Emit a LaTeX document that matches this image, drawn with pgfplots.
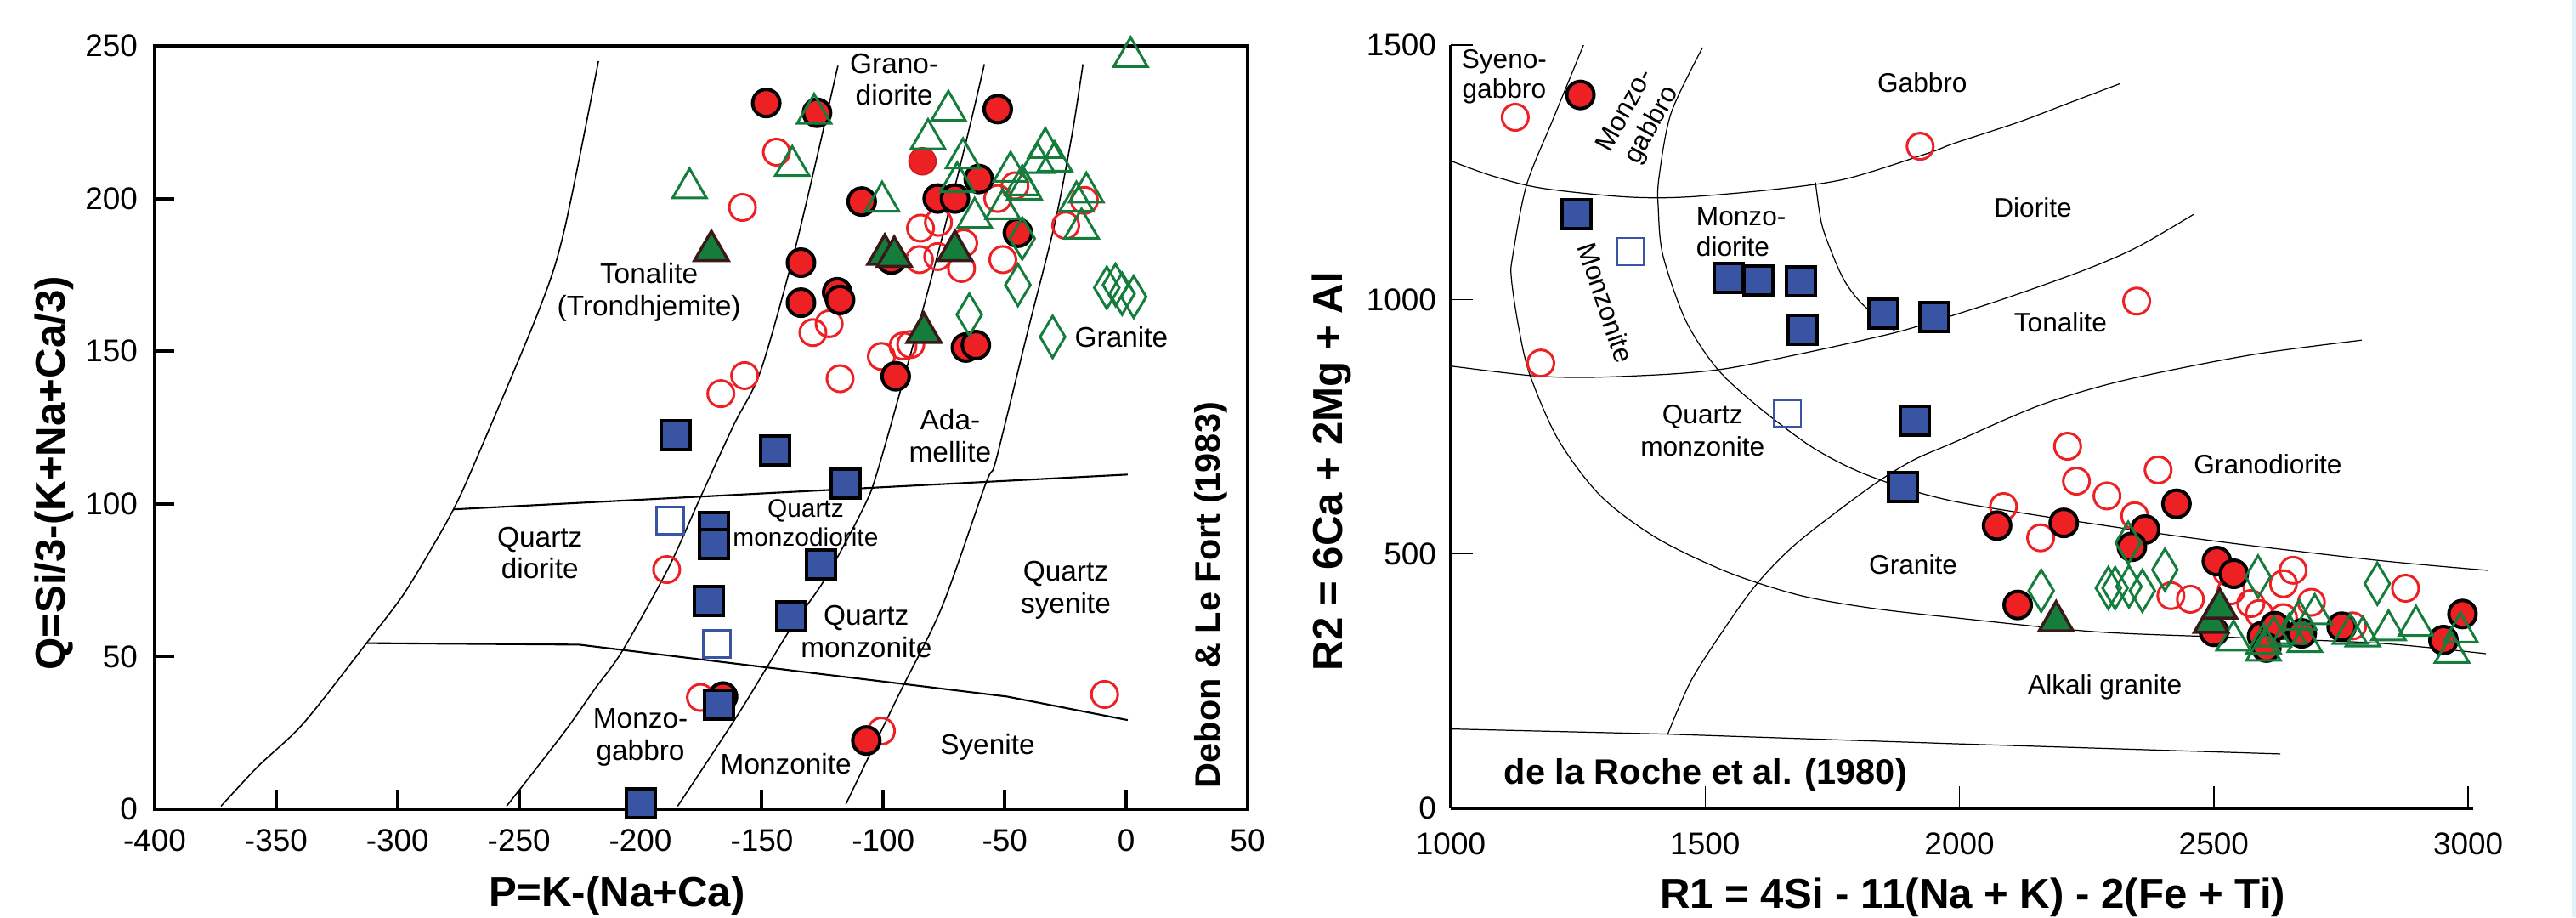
\documentclass[border=0pt]{standalone}
\usepackage{fontspec}
\setmainfont{Liberation Sans}
\usepackage{pgfplots}
\pgfplotsset{compat=1.18}
\definecolor{myred}{RGB}{237,32,36}
\definecolor{mygreen}{RGB}{20,125,60}
\definecolor{myblue}{RGB}{58,84,164}
\definecolor{mybrown}{RGB}{60,25,25}
\definecolor{strip}{RGB}{225,243,250}
\newcommand\labL{\fontsize{9.5}{10.7}\selectfont}
\newcommand\labR{\fontsize{9}{10.1}\selectfont}
\newcommand\axl{\fontsize{14}{16}\selectfont\bfseries}
\pgfplotsset{
 redo/.style={only marks, color=myred, mark=o, mark size=1.55mm, mark options={draw=myred, line width=0.3mm}},
 redf/.style={only marks, color=myred, mark=*, mark size=1.6mm, mark options={fill=myred, draw=black, line width=0.4mm}},
 redn/.style={only marks, color=myred, mark=*, mark size=1.6mm, mark options={fill=myred, draw=myred!85!black, line width=0.15mm}},
 greto/.style={only marks, color=mygreen, mark=triangle, mark size=2.3mm, mark options={draw=mygreen, line width=0.3mm}},
 gretf/.style={only marks, color=mygreen, mark=triangle*, mark size=2.3mm, mark options={fill=mygreen, draw=mybrown, line width=0.35mm}},
 gred/.style={only marks, color=mygreen, mark=diamond, mark size=2.45mm, mark options={draw=mygreen, line width=0.3mm, xscale=0.8}},
 bluf/.style={only marks, color=myblue, mark=square*, mark size=1.7mm, mark options={fill=myblue, draw=black, line width=0.4mm}},
 bluo/.style={only marks, color=myblue, mark=square, mark size=1.6mm, mark options={draw=myblue, line width=0.25mm}},
 fld/.style={black, line width=0.45pt, smooth, no marks},
 fldR/.style={black, line width=0.35pt, smooth, no marks},
}
\begin{document}
\begin{tikzpicture}
\useasboundingbox (0,0) rectangle (303.1mm,107.9mm);
\fill[strip] (302.6mm,0) rectangle (303.1mm,107.9mm);
% ---------------- LEFT: Debon & Le Fort ----------------
\begin{axis}[
  at={(18.2mm,12.7mm)}, anchor=south west,
  scale only axis, width=128.6mm, height=89.8mm,
  xmin=-400, xmax=50, ymin=0, ymax=250,
  clip=false,
  xtick={-400,-350,...,50}, ytick={0,50,...,250},
  xtick pos=bottom, ytick pos=left, tick align=inside,
  major tick length=2.3mm,
  every tick/.style={black, line width=0.4mm},
  axis line style={line width=0.35mm},
  tick label style={font=\fontsize{10.5}{12}\selectfont},
  xticklabel style={yshift=-1.17mm},
  yticklabel style={xshift=-0.77mm},
  /pgf/number format/assume math mode=true,
  /pgf/number format/1000 sep={},
]
\addplot[fld] coordinates {(-372.7,1) (-357.5,14) (-338.7,28.2) (-312.8,54.4) (-297.6,70.3) (-285,86.8) (-277,98.2) (-269,112) (-242.3,162.4) (-231.6,188.8) (-217.3,245)};
\addplot[fld] coordinates {(-255.1,1) (-231.6,25) (-218.7,39.5) (-207.5,51.8) (-188.5,79) (-175.9,101.1) (-161.6,125.8) (-150.8,142.9) (-138.4,177.1) (-129.4,206.4) (-118.7,243.5)};
\addplot[fld] coordinates {(-184.7,1) (-159.7,31.2) (-138.3,59) (-124,75.4) (-108,99) (-101.9,112) (-86.5,155.6) (-75.9,186.9) (-65.2,221) (-58.4,244)};
\addplot[fld] coordinates {(-115.4,1.7) (-93.7,37.4) (-75.9,66.2) (-58,106.3) (-54.5,111.9) (-50,125.8) (-40.2,157.6) (-29.4,191.8) (-22.3,221) (-17.8,244)};
\addplot[black, line width=0.6pt, no marks] coordinates {(-277,98.2) (0.6,109.6)};
\addplot[black, line width=0.6pt, no marks] coordinates {(-312.8,54.4) (-225.3,53.9) (-49,36.9) (0.6,29.2)};
% open red circles
\addplot[redo] coordinates {(-144,215.2) (-158,197.1) (-84.7,190.3) (-77.3,192.2) (-66.9,185.4) (-85.1,180) (-77.6,181) (-67.8,177.1) (-50.8,180) (-52.9,200) (-45.8,204.2) (-17.2,199.4) (-24.9,191.2) (-122.3,159) (-129,156.1) (-117.8,141) (-100.8,148.3) (-91.9,151.7) (-88.7,152.2) (-157.1,142) (-166.9,136.1) (-189.2,78.5) (-175.3,36.6) (-100.8,25.6) (-8.9,37.6)};
% filled red circles
\addplot[redf] coordinates {(-148.2,231.3) (-127.3,228.1) (-52.9,229.3) (-60.7,206.4) (-108.9,199) (-77.6,200) (-70.5,200) (-44.6,188.8) (-133.9,179) (-133.9,165.9) (-119,169.3) (-117.8,166.8) (-96.7,180) (-66,151.2) (-61.9,152) (-94.9,141.8) (-166,36.9) (-107,22.5)};
\addplot[redn] coordinates {(-83.9,212.2)};
% green diamonds
\addplot[gred] coordinates {(-42.8,186.9) (-44.6,171.7) (-64.6,162) (-30.3,154.7) (-8,170.8) (-4.4,171.7) (-1.7,168.8) (3.1,167.8)};
% open green triangles
\addplot[greto] coordinates {(-128.5,227.8) (-73.2,228.8) (-81.6,219.5) (-137.5,210.7) (-179.8,203.4) (-67.2,213.2) (-69.6,205.4) (-100.5,199) (-62.4,193.7) (-50.8,196.6) (-47.6,208.8) (-42.8,204.4) (-41.9,203) (-36.5,211.7) (-33.3,216.6) (-29.4,212.2) (-16.4,202) (-20.5,199) (-18.4,190.2) (1.8,246.4)};
% filled green triangles
\addplot[gretf] coordinates {(-170.8,182.9) (-99.4,181.7) (-95.5,181) (-70.5,182.9) (-83.3,156.1)};
% blue squares
\addplot[bluf] coordinates {(-185.6,122.5) (-144.6,117.5) (-115.6,106.5) (-169.6,92.4) (-169.6,86.8) (-125.8,80.3) (-171.7,68.3) (-137.8,63.1) (-167.6,34.3) (-199.8,1.9)};
\addplot[bluo] coordinates {(-187.8,94.5) (-168.5,54.2)};
% labels
\node[font=\labL, align=center] at (axis cs:-95.5,239) {Grano-\\diorite};
\node[font=\labL, align=center] at (axis cs:-196.5,169.3) {Tonalite\\(Trondhjemite)};
\node[font=\labL] at (axis cs:-2,154.5) {Granite};
\node[font=\labL, align=center] at (axis cs:-72.5,122.4) {Ada-\\mellite};
\node[font=\labL, align=center] at (axis cs:-241.4,83.9) {Quartz\\diorite};
\node[font=\fontsize{8.5}{9.6}\selectfont, align=center] at (axis cs:-132,93.8) {Quartz\\monzodiorite};
\node[font=\labL, align=center] at (axis cs:-107,58.2) {Quartz\\monzonite};
\node[font=\labL, align=center] at (axis cs:-24.9,71.8) {Quartz\\syenite};
\node[font=\labL, align=center] at (axis cs:-200,23.5) {Monzo-\\gabbro};
\node[font=\labL] at (axis cs:-140.1,14.8) {Monzonite};
\node[font=\labL] at (axis cs:-57.1,20.5) {Syenite};
\node[font=\fontsize{11.8}{13}\selectfont\bfseries, rotate=90, anchor=west] at (axis cs:34.9,3.5) {Debon \& Le Fort (1983)};
\node[font=\axl, rotate=90] at (axis cs:-441.4,110) {Q=Si/3-(K+Na+Ca/3)};
\node[font=\axl] at (axis cs:-209.6,-28.4) {P=K-(Na+Ca)};
\end{axis}
% ---------------- RIGHT: de la Roche ----------------
\begin{axis}[
  at={(170.7mm,12.8mm)}, anchor=south west,
  scale only axis, width=120.3mm, height=89.8mm,
  xmin=1000, xmax=3010, ymin=0, ymax=1500,
  clip=false,
  axis x line*=bottom, axis y line*=left,
  xtick={1000,1500,...,3000}, ytick={0,500,1000,1500},
  tick align=inside,
  major tick length=2.6mm,
  every tick/.style={black, line width=0.15mm},
  axis line style={line width=0.33mm},
  tick label style={font=\fontsize{10.5}{12}\selectfont},
  xticklabel style={yshift=-1.67mm},
  yticklabel style={xshift=-0.47mm},
  /pgf/number format/assume math mode=true,
  /pgf/number format/1000 sep={},
]
\addplot[fldR] coordinates {(1261,1500) (1201,1354) (1149,1225) (1122,1087) (1119,1043) (1133,948) (1155,853.5) (1211,725) (1294.6,614) (1406,530.6) (1545,464) (1684.6,419) (1823.7,394) (1991,374.6) (2269,347) (2547.7,335.7) (2826,324.5) (3035,304)};
\addplot[fldR] coordinates {(1495,1495) (1433,1366) (1409,1237) (1408,1178) (1417,1087) (1461.7,959) (1523,864.7) (1601,792) (1712,708.7) (1823.7,653) (1991,603) (2325,550) (2547.7,519.5) (2826,487) (3039,467.7)};
\addplot[fldR] coordinates {(1717,1230) (1729,1149) (1751,1087) (1775,1035) (1809,991) (1873,938)};
\addplot[fldR] coordinates {(1001,1272) (1081,1243) (1177,1219) (1337,1202) (1457,1201) (1633,1216) (1777,1237) (1937,1287) (1990,1307) (2115,1348) (2215,1386) (2315,1424)};
\addplot[fldR] coordinates {(1001,869) (1155,850.7) (1267,846.8) (1434,853.5) (1545,864.7) (1684.6,892.5) (1823.7,923) (1907,944) (2074,996.7) (2240,1055.6) (2348,1102) (2460,1167)};
\addplot[fldR] coordinates {(1426.6,146) (1473,252) (1545,363.6) (1606.5,447) (1684.6,525) (1823.7,630.7) (1907,683) (1991,719.8) (2158,792) (2323,841) (2573,891) (2791,920)};
\addplot[black, line width=0.35pt, no marks] coordinates {(1001,156) (1424,146) (1991,127) (2631,107)};
% open red circles
\addplot[redo] coordinates {(1126.8,1358) (1922.8,1301) (1177,875) (2348.4,996.7) (2212.6,711.5) (2390.6,665) (2230,643) (2290,614) (2086.6,593) (2344.5,575) (2159.6,531.7) (2415.7,418) (2454,411) (2525.5,465) (2534,427.6) (2572.8,402.5) (2589.5,383) (2656,468) (2637,441.5) (2692,405) (2637,375) (2877,432.6) (2773,358.6)};
% filled red circles
\addplot[redf] coordinates {(1254.8,1402) (2074,555.6) (2205,561) (2426.6,598.5) (2365,548) (2339,514) (2114.5,399.8) (2506,486) (2539.4,461) (2500.4,347) (2595,338.6) (2620,358) (2603.5,316) (2673,344) (2751.5,357) (2989,382) (2951.5,330.7)};
% green diamonds
\addplot[gred] coordinates {(2160.7,427.6) (2331.7,522) (2292.7,433) (2306,433) (2333.3,436) (2359.6,427.6) (2404,469) (2587,455.5) (2821.5,441.5)};
% open green triangles
\addplot[greto] coordinates {(2539,330) (2597.8,324) (2597.8,310) (2668,371) (2698.5,382) (2648,343) (2679,327) (2768,343) (2793,338) (2843.6,350) (2897.6,359) (2968.3,306) (2985,346) (2618,338)};
% filled green triangles
\addplot[gretf] coordinates {(2190,368) (2494.8,365) (2511.5,393)};
% blue squares
\addplot[bluf] coordinates {(1247.6,1167) (1547,1042) (1605,1038) (1688.7,1035) (1691,941) (1851,971.6) (1950.7,966) (1912,762) (1888.6,631)};
\addplot[bluo] coordinates {(1353,1094.5) (1662,776)};
% labels
\node[font=\labR, align=center] at (axis cs:1105,1437.6) {Syeno-\\gabbro};
\node[font=\labR, align=center, rotate=61] at (axis cs:1370.6,1356) {Monzo-\\gabbro};
\node[font=\labR] at (axis cs:1927,1427) {Gabbro};
\node[font=\labR, align=left, anchor=west] at (axis cs:1462,1133) {Monzo-\\diorite};
\node[font=\labR, rotate=-71.6] at (axis cs:1305,994) {Monzonite};
\node[font=\labR] at (axis cs:2144.5,1181) {Diorite};
\node[font=\labR] at (axis cs:2198.5,955.7) {Tonalite};
\node[font=\fontsize{9}{10.9}\selectfont, align=center] at (axis cs:1495,742) {Quartz\\monzonite};
\node[font=\labR] at (axis cs:2606.3,676) {Granodiorite};
\node[font=\labR] at (axis cs:1909,478.9) {Granite};
\node[font=\labR] at (axis cs:2286,238) {Alkali granite};
\node[font=\fontsize{11.8}{13}\selectfont\bfseries] at (axis cs:1501,65.6) {de la Roche et al. (1980)};
\node[font=\axl, rotate=90] at (axis cs:766,662) {R2 = 6Ca + 2Mg + Al};
\node[font=\axl] at (axis cs:2026,-175) {R1 = 4Si - 11(Na + K) - 2(Fe + Ti)};
\end{axis}
\end{tikzpicture}
\end{document}
